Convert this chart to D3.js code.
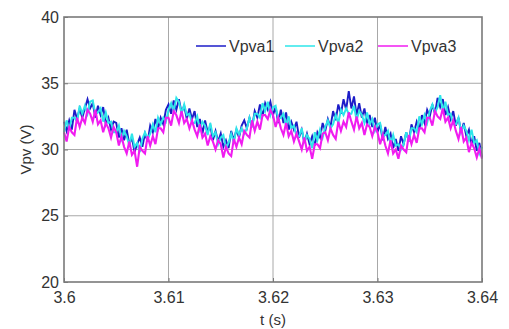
<!DOCTYPE html>
<html><head><meta charset="utf-8">
<script src="https://cdn.jsdelivr.net/npm/d3@7"></script>
<style>body{margin:0;background:#fff}svg{display:block}text{font-family:"Liberation Sans",Arial,sans-serif;fill:#333}</style>
</head><body>
<script>
const tStart = 3.6, tStep = 0.00025;
const xTicks = [3.6, 3.61, 3.62, 3.63, 3.64];
const xTickLabels = ["3.6", "3.61", "3.62", "3.63", "3.64"];
const yTicks = [20, 25, 30, 35, 40];
const yTickLabels = ["20", "25", "30", "35", "40"];
const seriesNames = ["Vpva1", "Vpva2", "Vpva3"];
const vpva1 = [32.1,31.4,32.2,31.5,33.0,32.3,33.1,32.4,33.1,33.8,33.1,33.5,32.4,33.3,32.6,33.2,31.9,32.4,31.5,32.1,
32.0,30.9,31.6,30.7,31.5,30.4,30.9,29.8,30.4,30.9,30.2,31.2,30.6,31.8,31.3,32.3,31.6,32.4,31.9,33.0,
33.4,32.7,33.7,33.0,33.8,32.8,33.3,32.3,33.1,32.3,32.9,31.7,32.3,31.2,32.2,31.3,31.8,30.7,31.4,30.6,
31.2,30.2,30.7,30.1,31.4,30.7,31.5,30.9,31.8,32.2,31.6,32.4,31.7,32.9,32.4,33.4,32.5,33.5,33.0,33.6,
32.6,33.2,32.0,33.0,32.0,32.8,31.5,32.1,31.5,32.1,30.9,31.5,30.5,31.2,30.4,31.0,30.3,31.3,30.9,32.0,
31.4,32.3,31.7,32.9,32.2,33.4,32.7,33.8,33.0,34.4,33.1,34.0,32.6,33.5,32.4,33.1,31.9,32.6,31.7,32.4,
31.3,31.9,30.7,31.7,30.8,31.2,30.1,30.8,29.9,31.0,30.4,31.3,30.6,31.9,31.3,32.1,31.5,32.6,32.0,33.0,
32.5,33.4,32.7,33.9,33.2,33.8,32.6,33.2,32.3,32.9,31.8,32.4,31.3,32.0,31.0,31.5,30.4,31.0,29.9,30.5,29.4];
const vpva2 = [31.3,32.2,31.5,32.4,32.4,32.1,33.3,32.7,33.3,32.7,33.6,33.7,32.7,32.8,33.1,32.1,32.8,32.0,32.1,31.3,
31.3,31.8,30.8,31.4,31.0,30.3,31.2,30.2,30.5,29.8,30.8,31.3,30.8,31.2,31.9,31.3,32.4,31.9,32.4,32.1,
33.0,33.5,32.9,33.9,33.6,32.7,33.4,32.6,32.7,32.0,32.0,32.5,31.5,32.1,31.8,31.1,32.0,31.0,31.3,30.4,
30.9,31.1,30.1,30.5,31.2,30.5,31.6,31.1,31.6,31.2,31.6,32.4,31.7,32.7,32.7,32.4,33.5,32.9,33.6,32.6,
33.2,33.3,32.3,32.4,32.7,31.8,32.5,31.6,31.8,31.0,31.0,31.6,30.5,31.1,30.8,30.1,31.3,30.7,31.5,30.9,
31.7,32.2,31.6,31.9,32.6,32.0,33.0,32.6,33.1,32.7,32.7,33.3,32.2,32.9,32.6,32.0,32.8,31.9,32.3,31.4,
31.9,32.0,31.0,31.1,31.4,30.4,31.1,30.3,30.4,30.0,30.4,31.3,30.6,31.6,31.6,31.3,32.5,31.9,32.6,32.0,
32.9,33.4,32.8,33.2,34.1,32.9,33.6,32.6,32.7,31.9,31.9,32.4,31.3,31.8,31.4,30.7,31.5,30.5,30.7,29.7,30.2];
const vpva3 = [31.3,30.6,31.7,31.3,31.1,32.4,31.7,32.4,32.0,33.0,32.7,32.1,33.0,31.9,32.2,31.3,32.0,31.6,30.9,31.7,
31.3,30.3,31.0,30.2,29.7,30.6,29.6,29.9,28.7,30.2,29.9,29.7,31.0,30.3,31.0,30.4,31.6,31.6,31.3,32.4,
32.4,31.8,32.9,32.6,32.0,32.9,32.0,32.3,31.6,32.2,31.5,31.0,31.9,30.9,31.2,30.3,31.0,30.6,30.0,30.7,
30.4,29.4,30.2,29.7,29.5,30.8,30.2,30.9,30.4,31.4,31.1,30.9,32.2,31.4,32.1,31.5,32.6,32.6,32.3,33.0,
32.6,31.7,32.4,31.6,31.1,32.0,31.0,31.4,30.6,31.2,30.6,30.0,30.9,29.9,30.2,29.3,30.4,30.4,30.1,31.2,
31.3,30.7,31.6,31.1,30.8,32.1,31.4,32.1,31.7,32.8,32.1,31.5,32.5,31.6,32.0,31.1,31.9,31.7,31.0,31.7,
31.3,30.4,31.1,30.3,29.7,30.7,29.7,30.0,29.3,30.3,30.0,29.8,31.1,30.4,31.1,30.5,31.6,31.6,31.3,32.4,
32.4,31.8,32.9,32.5,32.3,33.1,32.1,32.4,31.6,32.2,31.4,30.8,31.7,30.6,30.9,29.8,30.5,30.1,29.4,30.1,29.3];
const seriesValues = [vpva1, vpva2, vpva3];
const seriesColors = ["#1c1cc8", "#2ee6ea", "#f01cf0"];

const W = 509, H = 329;
const m = {left: 64, right: 27, top: 17, bottom: 47};
const svg = d3.select("body").append("svg").attr("width", W).attr("height", H);
const x = d3.scaleLinear().domain([3.6, 3.64]).range([m.left, W - m.right]);
const y = d3.scaleLinear().domain([20, 40]).range([H - m.bottom, m.top]);
const times = d3.range(vpva1.length).map(i => tStart + i * tStep);

// grid
const grid = svg.append("g").attr("stroke", "#a8a8a8").attr("stroke-width", 1);
xTicks.slice(1, -1).forEach(v => grid.append("line").attr("x1", x(v)).attr("x2", x(v)).attr("y1", y(20)).attr("y2", y(40)));
yTicks.slice(1, -1).forEach(v => grid.append("line").attr("x1", x(3.6)).attr("x2", x(3.64)).attr("y1", y(v)).attr("y2", y(v)));

// lines
const line = d3.line().x((d, i) => x(times[i])).y(d => y(d));
const widths = [1.9, 2.0, 2.1];
seriesValues.forEach((vals, k) => {
  svg.append("path").datum(vals).attr("d", line).attr("fill", "none")
    .attr("stroke", seriesColors[k]).attr("stroke-width", widths[k]).attr("stroke-linejoin", "miter");
});

// axes
const xAxis = d3.axisBottom(x).tickValues(xTicks).tickFormat((d, i) => xTickLabels[i]).tickSize(-4).tickPadding(10);
const yAxis = d3.axisLeft(y).tickValues(yTicks).tickFormat((d, i) => yTickLabels[i]).tickSize(-4).tickPadding(5);
const gx = svg.append("g").attr("transform", `translate(0,${H - m.bottom})`).call(xAxis);
const gy = svg.append("g").attr("transform", `translate(${m.left},0)`).call(yAxis);
[gx, gy].forEach(g => {
  g.select(".domain").remove();
  g.selectAll("line").attr("stroke", "#7a7a7a");
  g.selectAll("text").attr("font-size", 16).attr("fill", "#333").attr("font-family", "Liberation Sans, Arial, sans-serif");
});
// box
svg.append("rect").attr("x", x(3.6)).attr("y", y(40)).attr("width", x(3.64) - x(3.6)).attr("height", y(20) - y(40))
  .attr("fill", "none").attr("stroke", "#7a7a7a").attr("stroke-width", 1.6);

// labels
svg.append("text").attr("x", x(3.62)).attr("y", 325).attr("text-anchor", "middle").attr("font-size", 15).text("t (s)");
svg.append("text").attr("transform", `translate(31,${(y(20) + y(40)) / 2}) rotate(-90)`).attr("text-anchor", "middle")
  .attr("font-size", 15).text("Vpv (V)");

// legend
const legX = [196, 285, 378];
seriesNames.forEach((n, k) => {
  svg.append("line").attr("x1", legX[k]).attr("x2", legX[k] + 30).attr("y1", 46).attr("y2", 46)
    .attr("stroke", seriesColors[k]).attr("stroke-width", 1.5);
  svg.append("text").attr("x", legX[k] + 33).attr("y", 51.5).attr("font-size", 16).text(n);
});
</script>
</body></html>
